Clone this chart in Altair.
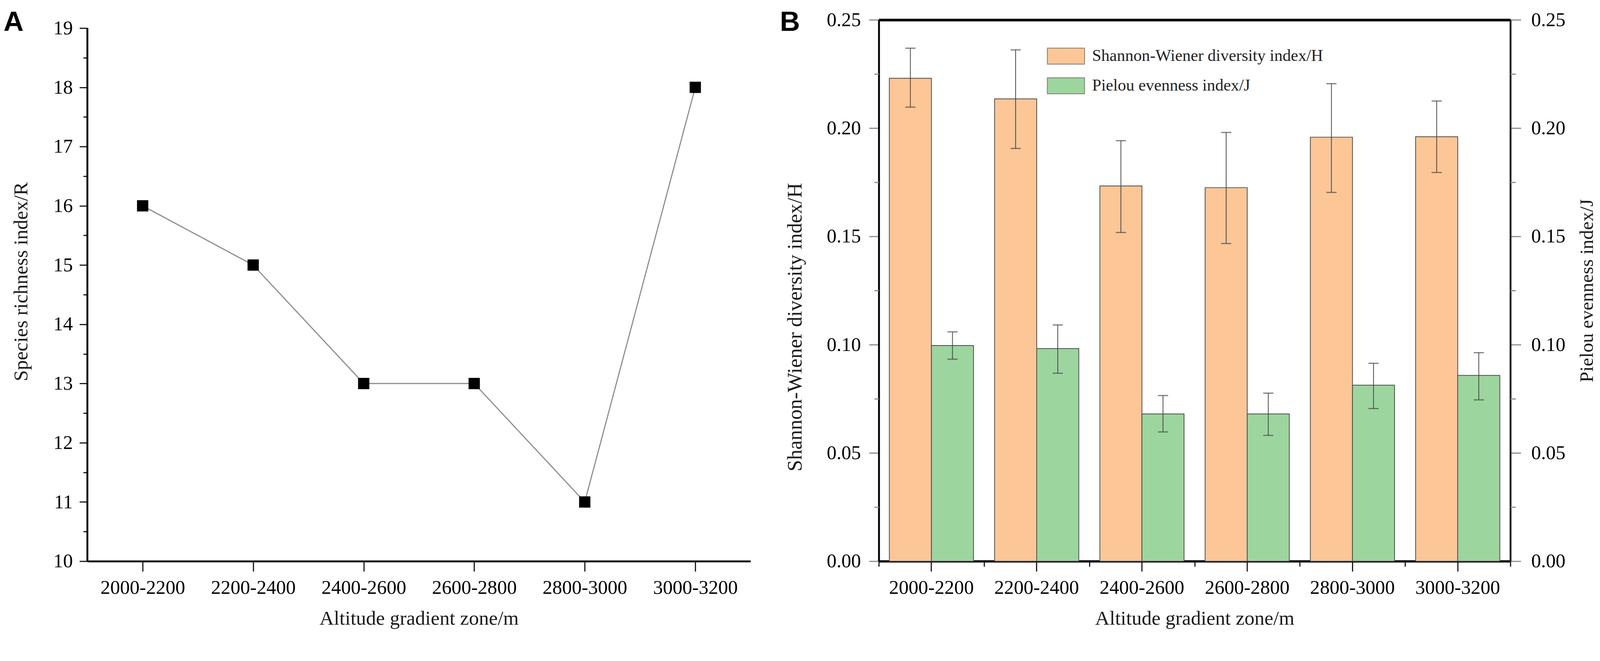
import altair as alt
import pandas as pd

# ---------------- data ----------------
zones = ["2000-2200", "2200-2400", "2400-2600", "2600-2800", "2800-3000", "3000-3200"]

# Panel A: species richness index R
richness = [16, 15, 13, 13, 11, 18]

# Panel B: Shannon-Wiener diversity index H and Pielou evenness index J (mean, error bar low/high)
series_names = ["Shannon-Wiener diversity index/H", "Pielou evenness index/J"]
shannon = [0.2230, 0.2135, 0.1733, 0.1725, 0.1958, 0.1960]
shannon_lo = [0.2097, 0.1906, 0.1518, 0.1467, 0.1703, 0.1795]
shannon_hi = [0.2369, 0.2361, 0.1942, 0.1980, 0.2205, 0.2125]
pielou = [0.0996, 0.0982, 0.0680, 0.0680, 0.0813, 0.0858]
pielou_lo = [0.0933, 0.0868, 0.0597, 0.0581, 0.0705, 0.0745]
pielou_hi = [0.1059, 0.1091, 0.0765, 0.0776, 0.0914, 0.0963]

yA_major = [10, 11, 12, 13, 14, 15, 16, 17, 18, 19]
yA_minor = [10.5, 11.5, 12.5, 13.5, 14.5, 15.5, 16.5, 17.5, 18.5]
yA_axis_span = [10, 19]
yB_major = [0.0, 0.05, 0.10, 0.15, 0.20, 0.25]
yB_minor = [0.025, 0.075, 0.125, 0.175, 0.225]

colors = ["#FCC697", "#9DD59E"]

SERIF = "Liberation Serif"
SANS = "Liberation Sans"

# ---------------- panel A ----------------
dfA = pd.DataFrame({"zone": zones, "R": richness})
WA, HA = 1763, 1440

xA_scale = alt.Scale(type="point", padding=0.5)
yA_scale = alt.Scale(domain=[10, 19.14], nice=False, zero=False)

xA = alt.X("zone:N", sort=zones, scale=xA_scale,
           axis=alt.Axis(title="Altitude gradient zone/m", labelAngle=0, tickSize=27, tickWidth=3,
                         tickColor="#111", domainColor="#000", domainWidth=5, labelPadding=18,
                         titlePadding=30, labelFontSize=52, titleFontSize=53, labelLimit=400,
                         grid=False))
yA = alt.Y("R:Q", scale=yA_scale,
           axis=alt.Axis(values=yA_major, format="d", title="Species richness index/R", tickSize=21,
                         tickWidth=3, tickColor="#111", domain=False,
                         labelPadding=18, labelFontSize=52, titleFontSize=53,
                         titleAngle=270, titleAlign="center", titleBaseline="middle",
                         titleX=-176, titleY=696, grid=False))

baseA = alt.Chart(dfA).encode(x=xA, y=yA)
lineA = baseA.mark_line(color="#8c8c8c", strokeWidth=3)
ptsA = baseA.mark_point(shape="square", filled=True, color="#000", size=900, opacity=1)

minorA = alt.Chart(dfA).mark_point(opacity=0).encode(
    x=alt.X("zone:N", sort=zones, scale=xA_scale, axis=None),
    y=alt.Y("R:Q", scale=yA_scale,
            axis=alt.Axis(orient="left", values=yA_minor, labels=False, domain=False, tickSize=11,
                          tickWidth=3, tickColor="#111", title=None, grid=False)),
)

# y axis line of panel A (from 10 to 19 only)
axlineA = alt.Chart(pd.DataFrame({"lo": [yA_axis_span[0]], "hi": [yA_axis_span[1]]})).mark_rule(
    color="#000", strokeWidth=5
).encode(x=alt.value(0), y=alt.Y("lo:Q", scale=yA_scale, axis=None), y2="hi:Q")

labA = alt.Chart(pd.DataFrame({"t": ["A"]})).mark_text(
    font=SANS, fontWeight="bold", fontSize=74, align="left", baseline="top", color="#000"
).encode(text="t:N", x=alt.value(-223), y=alt.value(-29))

panelA = alt.layer(alt.layer(lineA, ptsA), minorA, axlineA, labA).resolve_scale(
    x="independent", y="independent"
).properties(width=WA, height=HA)

# ---------------- panel B ----------------
rows = []
for i, z in enumerate(zones):
    rows.append({"zone": z, "series": series_names[0], "v": shannon[i],
                 "lo": shannon_lo[i], "hi": shannon_hi[i]})
    rows.append({"zone": z, "series": series_names[1], "v": pielou[i],
                 "lo": pielou_lo[i], "hi": pielou_hi[i]})
dfB = pd.DataFrame(rows)
WB, HB = 1679, 1440

xB_scale = alt.Scale(paddingInner=0.2, paddingOuter=0.1)
yB_scale = alt.Scale(domain=[0, 0.25], nice=False, zero=True)
off = alt.XOffset("series:N", sort=series_names, scale=alt.Scale(paddingInner=0, paddingOuter=0))

xB = alt.X("zone:N", sort=zones, scale=xB_scale,
           axis=alt.Axis(title="Altitude gradient zone/m", labelAngle=0, tickSize=27, tickWidth=3,
                         tickColor="#111", domainColor="#000", domainWidth=6, labelPadding=18,
                         titlePadding=30, labelFontSize=52, titleFontSize=53, labelLimit=400,
                         grid=False))
xB_plain = alt.X("zone:N", sort=zones, scale=xB_scale, axis=None)

yB = alt.Y("v:Q", scale=yB_scale,
           axis=alt.Axis(values=yB_major, format=".2f", title="Shannon-Wiener diversity index/H",
                         tickSize=26, tickWidth=3, tickColor="#8a8a8a", domainColor="#000",
                         domainWidth=5, labelPadding=22, labelFontSize=52, titleFontSize=55,
                         titleAngle=270, titleAlign="center", titleBaseline="middle",
                         titleX=-223, titleY=817, grid=False))

bars = alt.Chart(dfB).mark_bar(stroke="#4a4a4a", strokeWidth=2, opacity=1).encode(
    x=xB, xOffset=off, y=yB,
    color=alt.Color("series:N", sort=series_names,
                    scale=alt.Scale(domain=series_names, range=colors),
                    legend=alt.Legend(title=None, orient="none", legendX=447, legendY=46,
                                      symbolType="M-1,-0.43L1,-0.43L1,0.43L-1,0.43Z",
                                      symbolSize=9801, symbolStrokeColor="#7d7d70",
                                      symbolStrokeWidth=2, symbolOpacity=1, labelFont=SERIF,
                                      labelFontSize=44, labelOffset=19, rowPadding=3, padding=0,
                                      labelColor="#222", labelLimit=0)),
)
rules = alt.Chart(dfB).mark_rule(color="#444", strokeWidth=2).encode(
    x=xB_plain, xOffset=off,
    y=alt.Y("lo:Q", scale=yB_scale, axis=None), y2="hi:Q",
)
capLo = alt.Chart(dfB).mark_tick(color="#444", thickness=3, size=27).encode(
    x=xB_plain, xOffset=off, y=alt.Y("lo:Q", scale=yB_scale, axis=None),
)
capHi = alt.Chart(dfB).mark_tick(color="#444", thickness=3, size=27).encode(
    x=xB_plain, xOffset=off, y=alt.Y("hi:Q", scale=yB_scale, axis=None),
)

# minor ticks: bottom (between zones) and left
minorB = alt.Chart(dfB).mark_point(opacity=0).encode(
    x=alt.X("zone:N", sort=zones, scale=alt.Scale(paddingInner=0, paddingOuter=0),
            axis=alt.Axis(orient="bottom", tickBand="extent", labels=False, domain=False,
                          tickSize=14, tickWidth=3, tickColor="#111", title=None, grid=False)),
    y=alt.Y("v:Q", scale=yB_scale,
            axis=alt.Axis(orient="left", values=yB_minor, labels=False, domain=False, tickSize=12,
                          tickWidth=3, tickColor="#8a8a8a", title=None, grid=False)),
)

# right axis (Pielou)
rightB = alt.Chart(dfB).mark_point(opacity=0).encode(
    x=alt.X("zone:N", sort=zones, scale=xB_scale, axis=None),
    y=alt.Y("v:Q", scale=yB_scale,
            axis=alt.Axis(orient="right", values=yB_major, format=".2f",
                          title="Pielou evenness index/J", titleAngle=270, titleBaseline="top",
                          tickSize=28, tickWidth=3,
                          tickColor="#8a8a8a", domainColor="#222", domainWidth=5, labelPadding=27,
                          titlePadding=33, labelFontSize=52, titleFontSize=51, grid=False)),
)

# top frame line + right minor ticks
topB = alt.Chart(dfB).mark_point(opacity=0).encode(
    x=alt.X("zone:N", sort=zones, scale=xB_scale,
            axis=alt.Axis(orient="top", ticks=False, labels=False, domainWidth=7,
                          domainColor="#000", title=None, grid=False)),
    y=alt.Y("v:Q", scale=yB_scale,
            axis=alt.Axis(orient="right", values=yB_minor, labels=False, domain=False,
                          tickSize=14, tickWidth=3, tickColor="#8a8a8a", title=None, grid=False)),
)

labB = alt.Chart(pd.DataFrame({"t": ["B"]})).mark_text(
    font=SANS, fontWeight="bold", fontSize=74, align="left", baseline="top", color="#000"
).encode(text="t:N", x=alt.value(-263), y=alt.value(-29))

panelB = alt.layer(bars, rules, capLo, capHi, minorB, rightB, topB, labB).resolve_scale(
    x="independent", y="independent", xOffset="independent"
).properties(width=WB, height=HB)

chart = alt.hconcat(panelA, panelB, spacing=76).resolve_legend(
    color="independent"
).properties(
    padding={"left": 0, "top": -18, "right": 0, "bottom": 0}
).configure_view(
    stroke="transparent"
).configure_axis(
    labelFont=SERIF, titleFont=SERIF, titleFontWeight="normal", labelColor="#000",
    titleColor="#1a1a1a"
)

chart.save("out.html", embed_options={"renderer": "svg", "actions": False})
